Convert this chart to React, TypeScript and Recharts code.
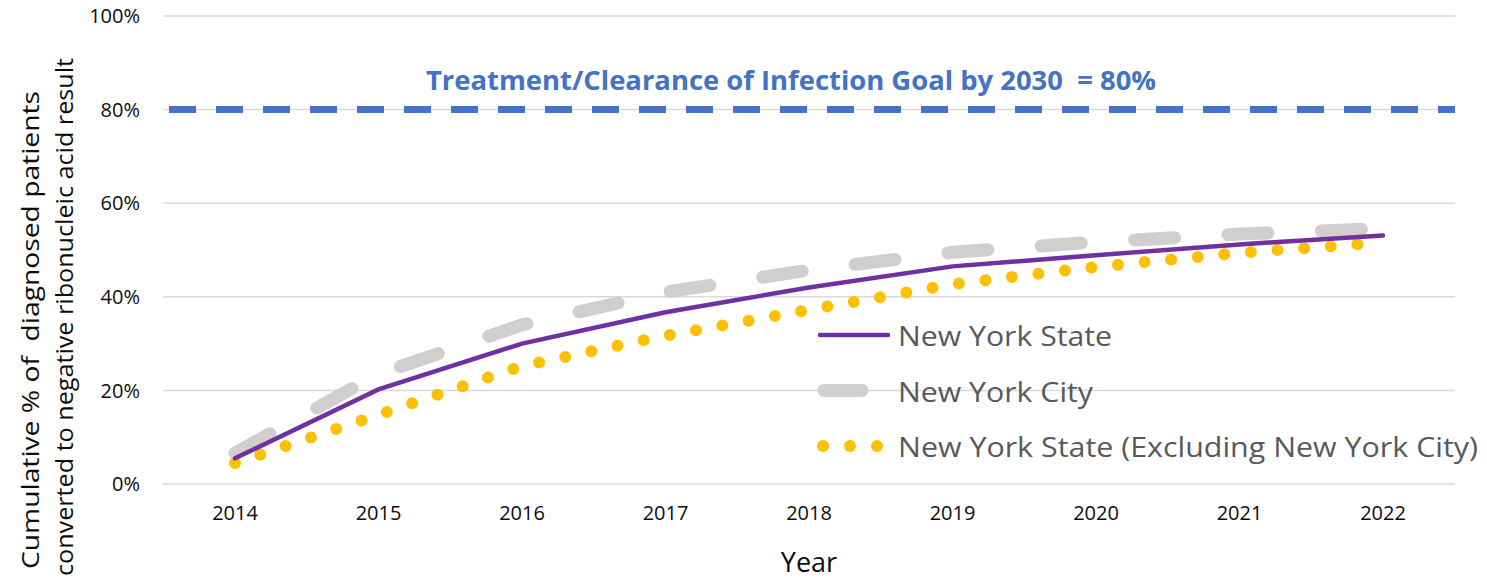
import {
  LineChart,
  Line,
  XAxis,
  YAxis,
  CartesianGrid,
  ReferenceLine,
  Legend,
} from "recharts";

const years = ["2014", "2015", "2016", "2017", "2018", "2019", "2020", "2021", "2022"];
const nysValues = [5.5, 20.2, 30.0, 36.7, 42.0, 46.5, 48.9, 51.2, 53.1];
const nycValues = [6.6, 23.5, 34.0, 41.0, 45.7, 49.5, 51.7, 53.4, 54.6];
const nysExclValues = [4.5, 14.8, 25.2, 31.7, 37.2, 42.7, 46.4, 49.4, 51.6];
const yTicks = [0, 20, 40, 60, 80, 100];
const goalValue = 80;
const legendOrder = ["nys", "nyc", "nysExcl"];

const data = years.map((year, i) => ({
  year,
  nys: nysValues[i],
  nyc: nycValues[i],
  nysExcl: nysExclValues[i],
}));

const FONT = "'Open Sans', sans-serif";

const seriesStyle: Record<string, { stroke: string; width: number; dash?: string; textLen: number }> = {
  nys: { stroke: "#7030A0", width: 4.5, textLen: 214 },
  nyc: { stroke: "#D0CECE", width: 13, dash: "40 53.5", textLen: 195 },
  nysExcl: { stroke: "#FFC000", width: 12, dash: "0 26.7", textLen: 580 },
};

function LegendBox(props: any) {
  const payload = props.payload || [];
  const items = legendOrder
    .map((key) => payload.find((p: any) => p.dataKey === key))
    .filter(Boolean);
  return (
    <svg width={677} height={150} style={{ display: "block", overflow: "visible" }}>
      {items.map((item: any, i: number) => {
        const s = seriesStyle[item.dataKey];
        const cy = 23 + i * 55.5;
        return (
          <g key={item.dataKey}>
            {item.dataKey === "nysExcl" ? (
              [0, 1, 2].map((k) => (
                <circle key={k} cx={15 + k * 27} cy={cy} r={6} fill={s.stroke} />
              ))
            ) : (
              <line
                x1={item.dataKey === "nyc" ? 16 : 12}
                x2={item.dataKey === "nyc" ? 54 : 80}
                y1={cy}
                y2={cy}
                stroke={s.stroke}
                strokeWidth={s.width}
                strokeLinecap="round"
              />
            )}
            <text
              x={90}
              y={cy}
              dominantBaseline="central"
              fontFamily={FONT}
              fontSize={28}
              fill="#595959"
              textLength={s.textLen}
              lengthAdjust="spacingAndGlyphs"
            >
              {item.value}
            </text>
          </g>
        );
      })}
    </svg>
  );
}

function YTitle() {
  return (
    <g fontFamily={FONT} fontSize={23} fill="#0d0d0d">
      <text
        x={30}
        y={330}
        transform="rotate(-90, 30, 330)"
        textAnchor="middle"
        dominantBaseline="central"
        textLength={478}
        lengthAdjust="spacingAndGlyphs"
        style={{ whiteSpace: "pre" }}
      >
        Cumulative % of  diagnosed patients
      </text>
      <text
        x={64}
        y={317}
        transform="rotate(-90, 64, 317)"
        textAnchor="middle"
        dominantBaseline="central"
        textLength={518}
        lengthAdjust="spacingAndGlyphs"
      >
        converted to negative ribonucleic acid result
      </text>
    </g>
  );
}

function GoalLabel() {
  return (
    <text
      x={791}
      y={90}
      textAnchor="middle"
      fontFamily={FONT}
      fontWeight={700}
      fontSize={27}
      fill="#4472C4"
      textLength={730}
      lengthAdjust="spacingAndGlyphs"
      style={{ whiteSpace: "pre" }}
    >
      Treatment/Clearance of Infection Goal by 2030  = 80%
    </text>
  );
}

export default function App() {
  return (
    <div style={{ position: "absolute", left: 0, top: 0, background: "#fff" }}>
      <LineChart
        width={1487}
        height={582}
        data={data}
        margin={{ top: 16, right: 32, left: 0, bottom: 0 }}
      >
        <CartesianGrid vertical={false} stroke="#D9D9D9" strokeWidth={1.5} />
        <XAxis
          dataKey="year"
          axisLine={false}
          tickLine={false}
          tickSize={0}
          tickMargin={22}
          height={98}
          padding={{ left: 72, right: 72 }}
          tick={{ fill: "#0d0d0d", fontSize: 20, fontFamily: FONT }}
          label={{
            value: "Year",
            position: "insideBottom",
            offset: 10,
            fill: "#0d0d0d",
            fontSize: 27,
            fontFamily: FONT,
          }}
        />
        <YAxis
          domain={[0, 100]}
          ticks={yTicks}
          width={163}
          axisLine={false}
          tickLine={false}
          tickSize={0}
          tickMargin={23}
          tickFormatter={(v) => `${v}%`}
          tick={{ fill: "#0d0d0d", fontSize: 20, fontFamily: FONT }}
          label={<YTitle />}
        />
        <ReferenceLine
          y={goalValue}
          stroke="#4472C4"
          strokeWidth={7}
          strokeDasharray="27 20"
          strokeDashoffset={-6}
          label={<GoalLabel />}
        />
        <Legend
          layout="vertical"
          align="center"
          verticalAlign="middle"
          wrapperStyle={{ left: 808, top: 312, width: 677 }}
          content={<LegendBox />}
        />
        <Line
          type="linear"
          dataKey="nysExcl"
          name="New York State (Excluding New York City)"
          stroke={seriesStyle.nysExcl.stroke}
          strokeWidth={seriesStyle.nysExcl.width}
          strokeDasharray={seriesStyle.nysExcl.dash}
          strokeLinecap="round"
          dot={false}
          activeDot={false}
          isAnimationActive={false}
        />
        <Line
          type="linear"
          dataKey="nyc"
          name="New York City"
          stroke={seriesStyle.nyc.stroke}
          strokeWidth={seriesStyle.nyc.width}
          strokeDasharray={seriesStyle.nyc.dash}
          strokeLinecap="round"
          dot={false}
          activeDot={false}
          isAnimationActive={false}
        />
        <Line
          type="linear"
          dataKey="nys"
          name="New York State"
          stroke={seriesStyle.nys.stroke}
          strokeWidth={seriesStyle.nys.width}
          strokeLinecap="round"
          dot={false}
          activeDot={false}
          isAnimationActive={false}
        />
      </LineChart>
    </div>
  );
}
